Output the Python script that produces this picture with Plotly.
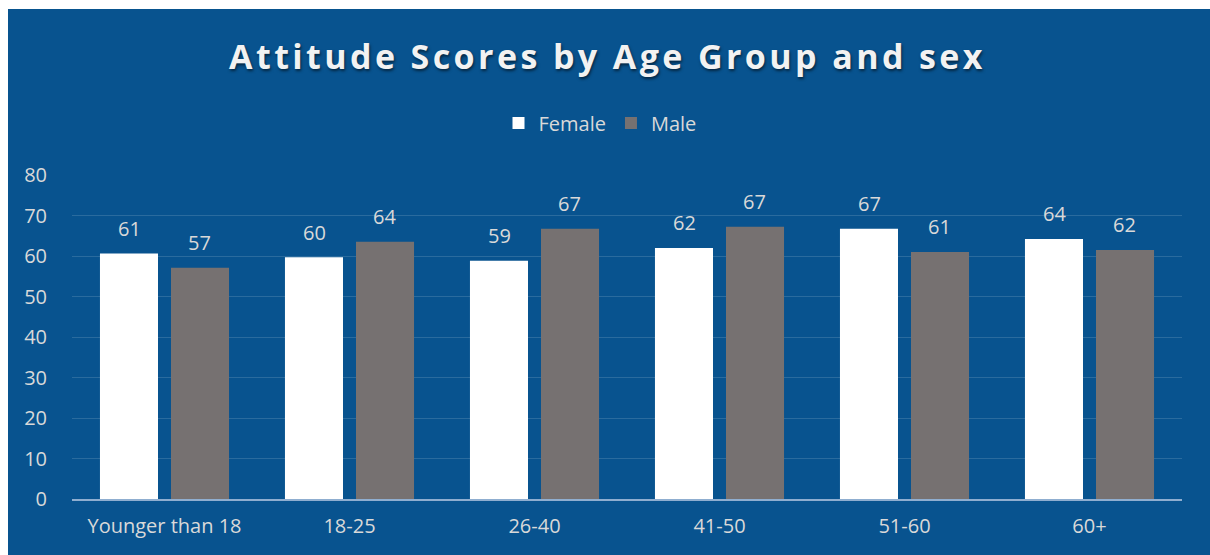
import plotly.graph_objects as go

categories = ["Younger than 18", "18-25", "26-40", "41-50", "51-60", "60+"]
female = [60.6, 59.7, 58.8, 62.0, 66.7, 64.2]
male = [57.1, 63.5, 66.7, 67.2, 61.0, 61.5]
female_labels = ["61", "60", "59", "62", "67", "64"]
male_labels = ["57", "64", "67", "67", "61", "62"]
y_ticks = [0, 10, 20, 30, 40, 50, 60, 70, 80]

BG = "#08538f"
TXT = "#d9d9d9"
FONT = "Open Sans"

fig = go.Figure()
fig.add_trace(go.Bar(name="Female", x=categories, y=female, marker=dict(color="#ffffff", line=dict(width=0))))
fig.add_trace(go.Bar(name="Male", x=categories, y=male, marker=dict(color="#767171", line=dict(width=0))))

for cat, v, t in zip(categories, female, female_labels):
    fig.add_annotation(x=cat, y=v, text=t, showarrow=False, xshift=-35, yshift=25,
                       font=dict(family=FONT, size=20, color=TXT))
for cat, v, t in zip(categories, male, male_labels):
    fig.add_annotation(x=cat, y=v, text=t, showarrow=False, xshift=35, yshift=25,
                       font=dict(family=FONT, size=20, color=TXT))

W, H = 1210, 555
ml, mr, mt, mb = 72, 28, 175, 56
pw, ph = W - ml - mr, H - mt - mb
def px(x): return (x - ml) / pw
def py(y): return (H - mb - y) / ph

# white frame strips (top and left)
fig.add_shape(type="rect", xref="paper", yref="paper", x0=px(-5), x1=px(8), y0=py(-5), y1=py(H + 5),
              fillcolor="white", line=dict(width=0), layer="above")
fig.add_shape(type="rect", xref="paper", yref="paper", x0=px(-5), x1=px(W + 5), y0=py(-5), y1=py(9),
              fillcolor="white", line=dict(width=0), layer="above")

fig.update_layout(
    width=W, height=H,
    margin=dict(l=ml, r=mr, t=mt, b=mb),
    paper_bgcolor=BG, plot_bgcolor=BG,
    barmode="group", bargap=0.232, bargroupgap=0.183,
    title=dict(text="<b>Attitude Scores by Age Group and sex</b>", x=(609.5 - 2) / W, xanchor="center",
               y=1 - 57 / H, yanchor="middle",
               font=dict(family=FONT, size=34, color="#f2f2f2",
                         shadow="1px 2px 3px rgba(0,0,0,0.55)")),
    legend=dict(orientation="h", x=px(600), xanchor="center", y=py(123), yanchor="middle",
                font=dict(family=FONT, size=20, color=TXT), bgcolor="rgba(0,0,0,0)",
                itemwidth=30, traceorder="normal"),
    showlegend=True,
)
fig.update_yaxes(range=[0, 80], tickvals=y_ticks, showgrid=True, gridcolor="rgba(255,255,255,0.14)",
                 gridwidth=1, zeroline=False, showline=False,
                 ticks="outside", ticklen=20, tickcolor="rgba(0,0,0,0)",
                 tickfont=dict(family=FONT, size=20, color=TXT))
fig.update_xaxes(showline=True, linecolor="#8faed0", linewidth=2, showgrid=False,
                 ticks="outside", ticklen=8, tickcolor="rgba(0,0,0,0)",
                 tickfont=dict(family=FONT, size=20, color=TXT))

post = ("document.body.style.margin='0';document.body.style.overflow='hidden';"
        "var s=document.createElement('style');s.textContent='.gtitle{letter-spacing:3.4px}';"
        "document.head.appendChild(s);")
fig.write_html("out.html", post_script=post, config={"displayModeBar": False})
